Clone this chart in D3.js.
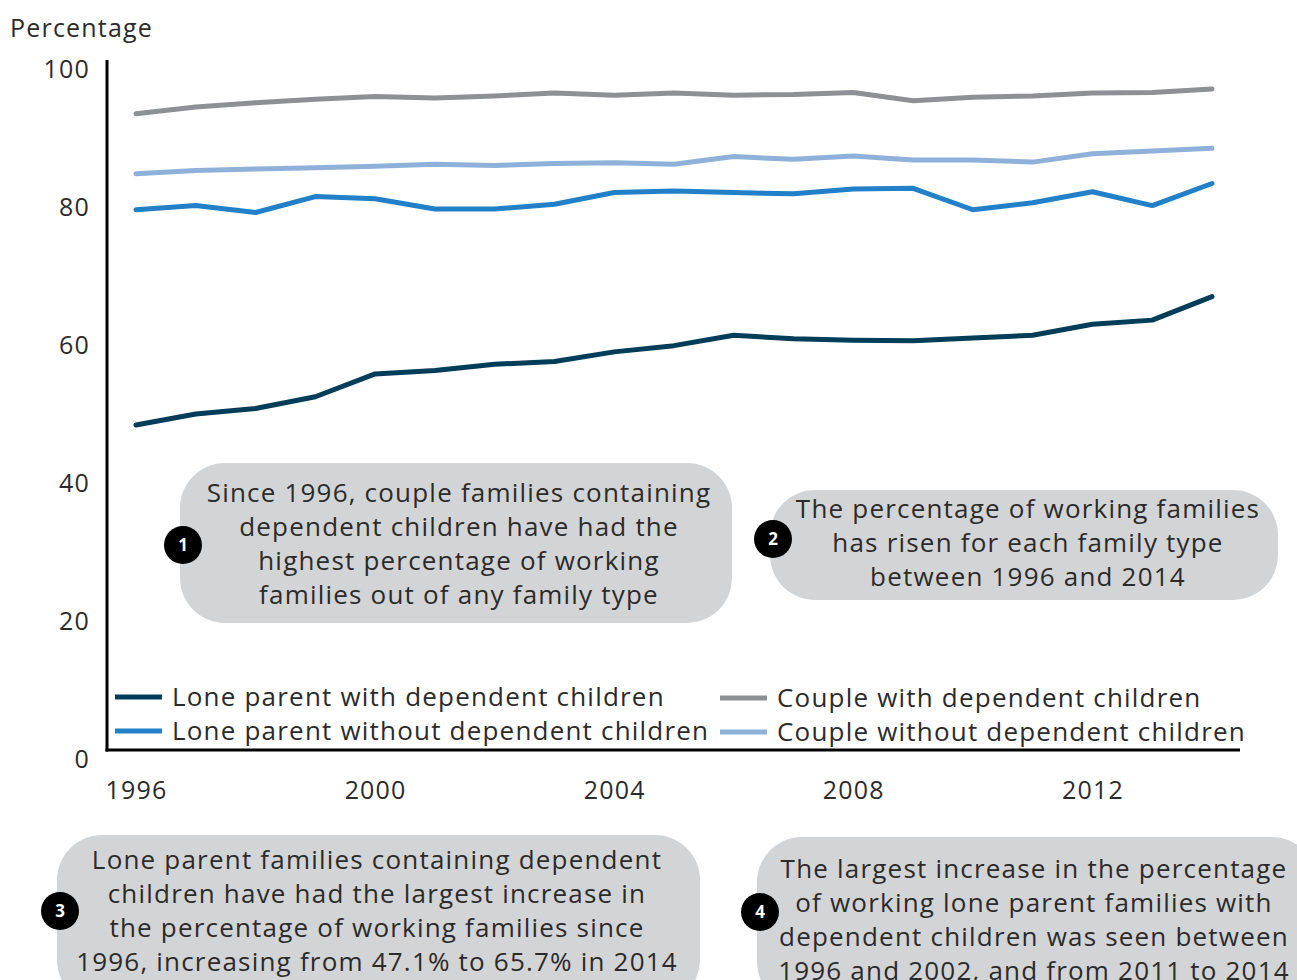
<!DOCTYPE html>
<html>
<head>
<meta charset="utf-8">
<script src="https://cdn.jsdelivr.net/npm/d3@7"></script>
<style>
  body { margin: 0; background: #fff; }
  text { font-family: "Open Sans", sans-serif; fill: #2b2b2b; letter-spacing: 1.2px; }
</style>
</head>
<body>
<svg width="1297" height="980"></svg>
<script>
const svg = d3.select("svg");

// data
const years = d3.range(1996, 2015);
const loneWithDep = [47.1, 48.7, 49.5, 51.2, 54.5, 55.0, 55.9, 56.3, 57.7, 58.6, 60.1, 59.6, 59.4, 59.3, 59.7, 60.1, 61.7, 62.3, 65.7];
const loneWithoutDep = [78.3, 78.9, 77.9, 80.2, 79.9, 78.4, 78.4, 79.1, 80.8, 81.0, 80.8, 80.6, 81.3, 81.4, 78.3, 79.3, 80.9, 78.9, 82.1];
const coupleWithDep = [92.2, 93.2, 93.8, 94.3, 94.7, 94.5, 94.8, 95.2, 94.9, 95.2, 94.9, 95.0, 95.3, 94.1, 94.6, 94.8, 95.2, 95.3, 95.8];
const coupleWithoutDep = [83.5, 84.0, 84.2, 84.4, 84.6, 84.9, 84.7, 85.0, 85.1, 84.9, 86.0, 85.6, 86.1, 85.5, 85.5, 85.2, 86.4, 86.8, 87.2];
const yTicks = [0, 20, 40, 60, 80, 100];
const xTicks = [1996, 2000, 2004, 2008, 2012];

const series = [
  { name: "Couple with dependent children", values: coupleWithDep, color: "#8f9094" },
  { name: "Couple without dependent children", values: coupleWithoutDep, color: "#8fb1d9" },
  { name: "Lone parent without dependent children", values: loneWithoutDep, color: "#2180c7" },
  { name: "Lone parent with dependent children", values: loneWithDep, color: "#003d58" }
];

const notes = [
  { n: 1, lines: ["Since 1996, couple families containing", "dependent children have had the", "highest percentage of working", "families out of any family type"] },
  { n: 2, lines: ["The percentage of working families", "has risen for each family type", "between 1996 and 2014"] },
  { n: 3, lines: ["Lone parent families containing dependent", "children have had the largest increase in", "the percentage of working families since", "1996, increasing from 47.1% to 65.7% in 2014"] },
  { n: 4, lines: ["The largest increase in the percentage", "of working lone parent families with", "dependent children was seen between", "1996 and 2002, and from 2011 to 2014"] }
];

// layout
const x = d3.scaleLinear().domain([1996, 2014]).range([136, 1212]);
const y = d3.scaleLinear().domain([0, 100]).range([750, 60]);
const axisX0 = 107;
const axisX1 = 1240;

// y label
svg.append("text")
  .attr("x", 10)
  .attr("y", 37)
  .attr("font-size", 25)
  .text("Percentage");

// y tick labels
const yAxisG = svg.append("g")
  .attr("transform", `translate(${axisX0}, 9)`)
  .call(d3.axisLeft(y).tickValues(yTicks).tickSize(0).tickPadding(17));
yAxisG.select(".domain").remove();
yAxisG.selectAll("text")
  .attr("font-size", 25)
  .attr("font-family", "Open Sans, sans-serif")
  .attr("fill", "#2b2b2b");

// x tick labels
const xAxisG = svg.append("g")
  .attr("transform", `translate(0, 750)`)
  .call(d3.axisBottom(x).tickValues(xTicks).tickFormat(d3.format("d")).tickSize(0).tickPadding(31));
xAxisG.select(".domain").remove();
xAxisG.selectAll("text")
  .attr("font-size", 25)
  .attr("font-family", "Open Sans, sans-serif")
  .attr("fill", "#2b2b2b");

// axis lines
svg.append("line")
  .attr("x1", axisX0).attr("x2", axisX0)
  .attr("y1", y(100)).attr("y2", y(0) + 1.5)
  .attr("stroke", "#000").attr("stroke-width", 3);
svg.append("line")
  .attr("x1", axisX0 - 1.5).attr("x2", axisX1)
  .attr("y1", y(0)).attr("y2", y(0))
  .attr("stroke", "#000").attr("stroke-width", 3);

// lines
const line = d3.line()
  .x((d, i) => x(years[i]))
  .y(d => y(d));

svg.append("g")
  .selectAll("path")
  .data(series)
  .join("path")
    .attr("d", d => line(d.values))
    .attr("fill", "none")
    .attr("stroke", d => d.color)
    .attr("stroke-width", 5)
    .attr("stroke-linejoin", "round")
    .attr("stroke-linecap", "round");

// legend
const legendItems = [
  { s: series[3], x: 115, y: 697 },
  { s: series[2], x: 115, y: 731 },
  { s: series[0], x: 720, y: 698 },
  { s: series[1], x: 720, y: 732 }
];
const legend = svg.append("g")
  .selectAll("g")
  .data(legendItems)
  .join("g")
    .attr("transform", d => `translate(${d.x}, ${d.y})`);
legend.append("line")
  .attr("x1", 0).attr("x2", 47)
  .attr("stroke", d => d.s.color)
  .attr("stroke-width", 5);
legend.append("text")
  .attr("x", 57)
  .attr("dy", "0.35em")
  .attr("font-size", 26)
  .text(d => d.s.name);

// annotation boxes
const boxes = [
  { x: 180, y: 463, w: 552, h: 160, cx: 183, cy: 545, tx: 459, ty: 493 },
  { x: 770, y: 490, w: 508, h: 110, cx: 773, cy: 539, tx: 1028, ty: 509 },
  { x: 57, y: 835, w: 643, h: 170, cx: 60, cy: 911, tx: 377, ty: 860 },
  { x: 757, y: 837, w: 560, h: 170, cx: 760, cy: 912, tx: 1034, ty: 869 }
];

const noteG = svg.append("g")
  .selectAll("g")
  .data(notes)
  .join("g");

noteG.append("rect")
  .attr("x", (d, i) => boxes[i].x)
  .attr("y", (d, i) => boxes[i].y)
  .attr("width", (d, i) => boxes[i].w)
  .attr("height", (d, i) => boxes[i].h)
  .attr("rx", 45)
  .attr("fill", "#d3d4d6");

noteG.append("circle")
  .attr("cx", (d, i) => boxes[i].cx)
  .attr("cy", (d, i) => boxes[i].cy)
  .attr("r", 19)
  .attr("fill", "#000");

noteG.append("text")
  .attr("x", (d, i) => boxes[i].cx)
  .attr("y", (d, i) => boxes[i].cy)
  .attr("dy", "0.35em")
  .attr("text-anchor", "middle")
  .attr("font-size", 17)
  .attr("font-weight", "bold")
  .style("letter-spacing", "0px")
  .style("fill", "#fff")
  .text(d => d.n);

noteG.each(function (d, i) {
  const b = boxes[i];
  const t = d3.select(this).append("text")
    .attr("text-anchor", "middle")
    .attr("font-size", 26);
  d.lines.forEach((ln, k) => {
    t.append("tspan")
      .attr("x", b.tx)
      .attr("y", b.ty + k * 34)
      .attr("dy", "0.35em")
      .text(ln);
  });
});
</script>
</body>
</html>
